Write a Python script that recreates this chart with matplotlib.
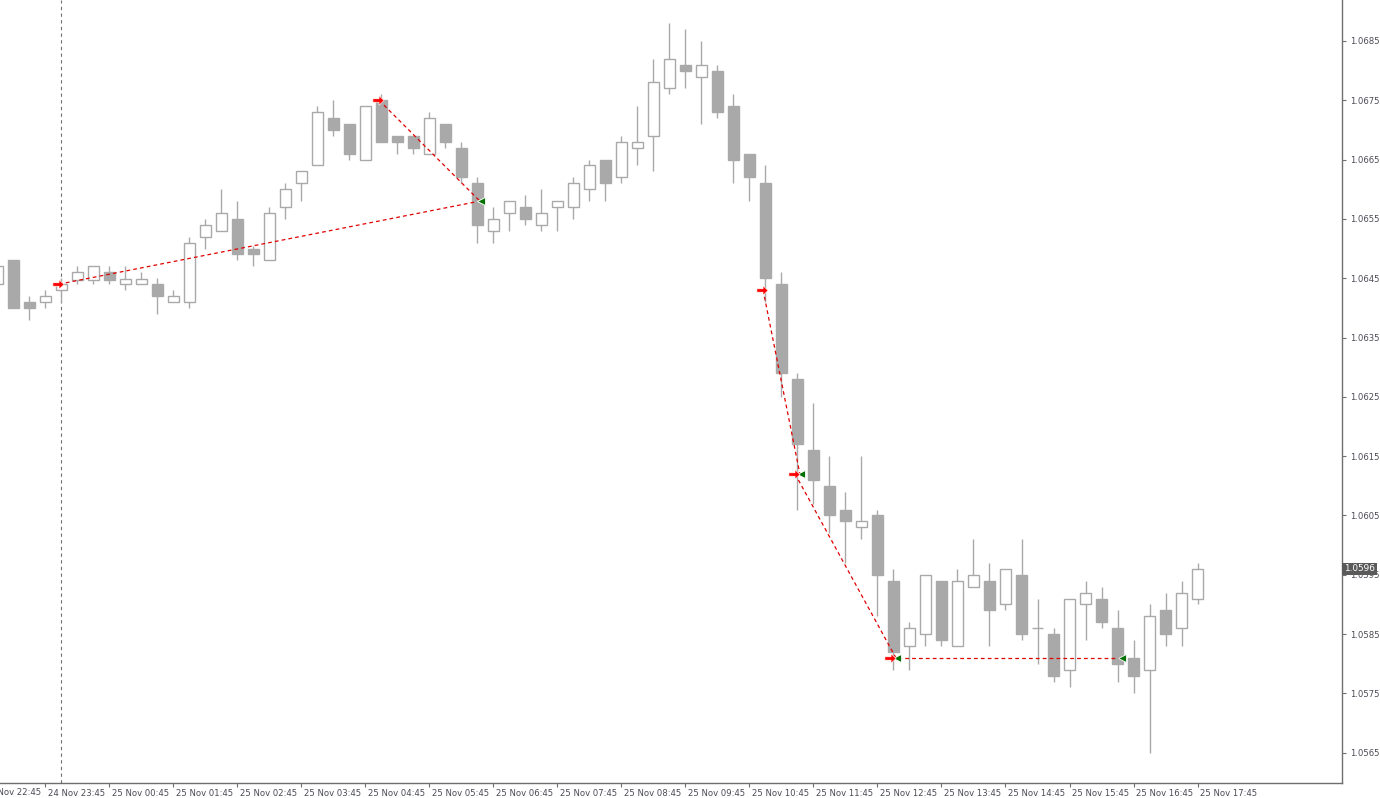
import matplotlib
matplotlib.use("Agg")
import matplotlib.pyplot as plt
import matplotlib.transforms as mtransforms
from matplotlib.path import Path
import numpy as np

# 15 minute candles, first one (partly hidden) is 24 Nov 23:15
opens = [1.0644, 1.0648, 1.0641, 1.0641, 1.0643, 1.06447, 1.06447, 1.0646, 1.0644, 1.0644,
         1.0644, 1.0641, 1.0641, 1.0652, 1.0653, 1.0655, 1.0650, 1.0648, 1.0657, 1.0661,
         1.0664, 1.0672, 1.0671, 1.0665, 1.0675, 1.0669, 1.0669, 1.0666, 1.0671, 1.0667,
         1.0661, 1.0653, 1.0656, 1.0657, 1.0654, 1.0657, 1.0657, 1.0660, 1.0665, 1.0662,
         1.0667, 1.0669, 1.0677, 1.0681, 1.0679, 1.0680, 1.0674, 1.0666, 1.0661, 1.0644,
         1.0628, 1.0616, 1.0610, 1.0606, 1.0603, 1.0605, 1.0594, 1.0583, 1.0585, 1.0594,
         1.0583, 1.0593, 1.0594, 1.0590, 1.0595, 1.0586, 1.0585, 1.0579, 1.0590, 1.0591,
         1.0586, 1.0581, 1.0579, 1.0589, 1.0586, 1.0591]
highs = [1.0647, 1.0648, 1.0642, 1.0643, 1.0645, 1.0647, 1.0647, 1.0647, 1.0647, 1.0646,
         1.0645, 1.0643, 1.0652, 1.0655, 1.0660, 1.0658, 1.06505, 1.0657, 1.0661, 1.0663,
         1.0674, 1.0675, 1.0671, 1.0674, 1.0676, 1.0669, 1.0669, 1.0673, 1.0671, 1.0668,
         1.0662, 1.0657, 1.0658, 1.0659, 1.0660, 1.0658, 1.0662, 1.0665, 1.0665, 1.0669,
         1.0674, 1.0682, 1.0688, 1.0687, 1.0685, 1.0681, 1.0676, 1.0666, 1.0664, 1.0646,
         1.0629, 1.0624, 1.0615, 1.0609, 1.0615, 1.0606, 1.0596, 1.0587, 1.0595, 1.0594,
         1.0596, 1.0601, 1.0597, 1.0596, 1.0601, 1.0591, 1.0586, 1.0591, 1.0594, 1.0593,
         1.0589, 1.0584, 1.0590, 1.0592, 1.0594, 1.0597]
lows = [1.0644, 1.0640, 1.0638, 1.0640, 1.0641, 1.0644, 1.0644, 1.0644, 1.0643, 1.0644,
        1.0639, 1.0641, 1.0640, 1.0650, 1.0653, 1.0648, 1.0647, 1.0648, 1.0655, 1.0658,
        1.0664, 1.0669, 1.0665, 1.0665, 1.0668, 1.0666, 1.0666, 1.0666, 1.0667, 1.0661,
        1.0651, 1.0651, 1.0653, 1.0654, 1.0653, 1.0653, 1.0655, 1.0658, 1.0658, 1.0661,
        1.0664, 1.0663, 1.0676, 1.0677, 1.0671, 1.0672, 1.0661, 1.0658, 1.0641, 1.0625,
        1.0606, 1.0607, 1.0602, 1.0597, 1.0601, 1.0588, 1.0579, 1.0579, 1.0583, 1.0583,
        1.0583, 1.0593, 1.0583, 1.0589, 1.0584, 1.0580, 1.0577, 1.0576, 1.0584, 1.0586,
        1.0577, 1.0575, 1.0565, 1.0583, 1.0583, 1.0590]
closes = [1.0647, 1.0640, 1.0640, 1.0642, 1.0644, 1.0646, 1.0647, 1.06447, 1.06449, 1.06449,
          1.0642, 1.0642, 1.0651, 1.0654, 1.0656, 1.0649, 1.0649, 1.0656, 1.0660, 1.0663,
          1.0673, 1.0670, 1.0666, 1.0674, 1.0668, 1.0668, 1.0667, 1.0672, 1.0668, 1.0662,
          1.0654, 1.0655, 1.0658, 1.0655, 1.0656, 1.0658, 1.0661, 1.0664, 1.0661, 1.0668,
          1.0668, 1.0678, 1.0682, 1.0680, 1.0681, 1.0673, 1.0665, 1.0662, 1.0645, 1.0629,
          1.0617, 1.0611, 1.0605, 1.0604, 1.0604, 1.0595, 1.0582, 1.0586, 1.0595, 1.0584,
          1.0594, 1.0595, 1.0589, 1.0596, 1.0585, 1.0586, 1.0578, 1.0591, 1.0592, 1.0587,
          1.0580, 1.0578, 1.0588, 1.0585, 1.0592, 1.0596]

# time labels, one every hour (every 4th bar), first one is off the left edge
time_labels = ["24 Nov 22:45", "24 Nov 23:45", "25 Nov 00:45", "25 Nov 01:45", "25 Nov 02:45",
               "25 Nov 03:45", "25 Nov 04:45", "25 Nov 05:45", "25 Nov 06:45", "25 Nov 07:45",
               "25 Nov 08:45", "25 Nov 09:45", "25 Nov 10:45", "25 Nov 11:45", "25 Nov 12:45",
               "25 Nov 13:45", "25 Nov 14:45", "25 Nov 15:45", "25 Nov 16:45", "25 Nov 17:45"]
price_ticks = [1.0565, 1.0575, 1.0585, 1.0595, 1.0605, 1.0615, 1.0625,
               1.0635, 1.0645, 1.0655, 1.0665, 1.0675, 1.0685]

# trades: bar index (k) and price of open / close
open_bar = [3, 23, 47, 49, 55]
open_price = [1.0644, 1.0675, 1.0643, 1.0612, 1.0581]
close_bar = [29, 29, 49, 55, 69]
close_price = [1.0658, 1.0658, 1.0612, 1.0581, 1.0581]

last_price = 1.0596
day_break_bar = 3

GREY = "#a9a9a9"
AXCOL = "#6e6e6e"
TXT = "#4a4a55"
FS = 6.1

fig = plt.figure(figsize=(13.8, 7.98), dpi=100, facecolor="white")
ax = fig.add_axes([0, 15 / 798, 1342 / 1380, 783 / 798])

x = np.arange(len(opens)) - 1
o = np.array(opens)
h = np.array(highs)
l = np.array(lows)
c = np.array(closes)
up = c >= o

ax.vlines(x, l, h, color=GREY, lw=1.0, zorder=1)
ax.bar(x[up], c[up] - o[up], bottom=o[up], width=0.66, color="white",
       edgecolor=GREY, linewidth=1.0, zorder=2)
ax.bar(x[~up], o[~up] - c[~up], bottom=c[~up], width=0.66, color=GREY,
       edgecolor=GREY, linewidth=1.0, zorder=2)

# day separator
ax.axvline(day_break_bar - 0.03, color="#707070", lw=0.8, dashes=(3, 3), zorder=0.5)

# trade lines and arrows
arrow = Path([(-1, -0.3), (0.1, -0.3), (0.1, -0.85), (1, 0), (0.1, 0.85), (0.1, 0.3), (-1, 0.3), (-1, -0.3)],
             [Path.MOVETO] + [Path.LINETO] * 6 + [Path.CLOSEPOLY])
for i in range(len(open_bar)):
    ax.plot([open_bar[i] - 0.15, close_bar[i] + 0.15], [open_price[i], close_price[i]],
            color="#e00000", lw=0.9, dashes=(3, 2.5), zorder=3)
for i in range(len(open_bar)):
    ax.plot(open_bar[i] - 0.2, open_price[i], marker=arrow, ms=8, color="#ff0000",
            mec="white", mew=0.4, zorder=5)
    ax.plot(close_bar[i] + 0.25, close_price[i], marker="<", ms=6, color="#007000",
            mec="white", mew=0.6, zorder=5)

ax.set_xlim(-0.84, 83.03)
ax.set_ylim(1.05599, 1.06919)

for side in ["left", "top"]:
    ax.spines[side].set_visible(False)
for side in ["right", "bottom"]:
    ax.spines[side].set_color(AXCOL)
    ax.spines[side].set_linewidth(1.0)

ax.yaxis.tick_right()
ax.set_yticks(price_ticks)
ax.set_yticklabels(["%.4f" % p for p in price_ticks])
ax.tick_params(axis="y", direction="out", length=3, width=0.8, color=AXCOL,
               labelsize=FS, labelcolor=TXT, pad=3)

tick_pos = [-2 + 4 * i for i in range(len(time_labels))]
shown = [(p, t) for p, t in zip(tick_pos, time_labels) if p >= -0.84]
ax.set_xticks([p for p, t in shown])
ax.set_xticklabels([t for p, t in shown])
ax.tick_params(axis="x", direction="out", length=3, width=0.8, color=AXCOL,
               labelsize=FS, labelcolor=TXT, pad=1)
offset = mtransforms.ScaledTranslation(1.5 / 72, 0, fig.dpi_scale_trans)
for lab in ax.get_xticklabels():
    lab.set_horizontalalignment("left")
    lab.set_transform(lab.get_transform() + offset)
# label of the hour that is already off the left edge
ax.text(tick_pos[0], -0.0065, time_labels[0], transform=ax.get_xaxis_transform() + offset,
        ha="left", va="top", fontsize=FS, color=TXT, clip_on=False)

# current price box
ax.text(1.0015, last_price, "%.4f" % last_price, transform=ax.get_yaxis_transform(),
        ha="left", va="center", fontsize=FS + 0.3, color="white", zorder=10, clip_on=False,
        bbox=dict(boxstyle="square,pad=0.2", fc="#5a5a5a", ec="none"))

fig.savefig("out.png", dpi=100, facecolor="white")
